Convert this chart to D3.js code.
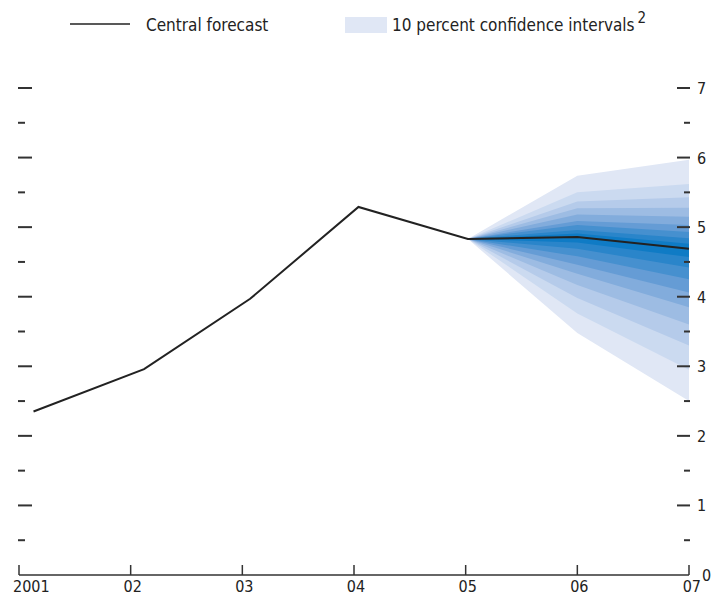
<!DOCTYPE html>
<html>
<head>
<meta charset="utf-8">
<script src="https://cdn.jsdelivr.net/npm/d3@7"></script>
<style>
  body { margin: 0; background: #fff; }
  svg text { font-family: "Liberation Sans Narrow", "Arial Narrow", "DejaVu Sans Condensed", sans-serif; fill: #222; }
</style>
</head>
<body>
<div id="chart"></div>
<script>
// central forecast (year position, value)
const years = [2001.13, 2002.12, 2003.07, 2004.04, 2005.02, 2006.0, 2007.0];
const central = [2.35, 2.96, 3.97, 5.29, 4.83, 4.86, 4.69];

// fan: bands from outermost (90%) to innermost (10%), at 2005, 2006, 2007
const fanYears = [2005.02, 2006.0, 2007.0];
const fanUpper = [
  [4.83, 5.74, 5.97],
  [4.83, 5.50, 5.62],
  [4.83, 5.37, 5.43],
  [4.83, 5.27, 5.28],
  [4.83, 5.18, 5.15],
  [4.83, 5.09, 5.03],
  [4.83, 5.03, 4.93],
  [4.83, 4.96, 4.84],
  [4.83, 4.91, 4.76]
];
const fanLower = [
  [4.83, 3.48, 2.50],
  [4.83, 3.76, 2.95],
  [4.83, 3.98, 3.30],
  [4.83, 4.17, 3.60],
  [4.83, 4.33, 3.85],
  [4.83, 4.46, 4.06],
  [4.83, 4.58, 4.25],
  [4.83, 4.69, 4.42],
  [4.83, 4.78, 4.57]
];
const fanColors = ["#e0e7f5", "#cbdaf0", "#b5cbea", "#9dbce3", "#82acdc", "#659cd5", "#4690cf", "#2a85ca", "#0f7bc5"];

const xTicks = [2001, 2002, 2003, 2004, 2005, 2006, 2007];
const xLabels = ["2001", "02", "03", "04", "05", "06", "07"];
const yLabels = [0, 1, 2, 3, 4, 5, 6, 7];

const width = 712, height = 598;
const svg = d3.select("#chart").append("svg")
  .attr("width", width)
  .attr("height", height);

const x = d3.scaleLinear().domain([2001, 2007]).range([19, 689]);
const y = d3.scaleLinear().domain([0, 7]).range([575, 88]);

// fan bands
const area = d3.area()
  .x(d => x(d.x))
  .y0(d => y(d.lo))
  .y1(d => y(d.hi));

fanUpper.forEach(function (up, i) {
  const pts = fanYears.map((yr, j) => ({x: yr, lo: fanLower[i][j], hi: up[j]}));
  svg.append("path")
    .attr("d", area(pts))
    .attr("fill", fanColors[i]);
});

// central forecast line
const line = d3.line()
  .x((d, i) => x(years[i]))
  .y(d => y(d));
svg.append("path")
  .attr("d", line(central))
  .attr("fill", "none")
  .attr("stroke", "#222")
  .attr("stroke-width", 2)
  .attr("stroke-linejoin", "miter");

// y ticks, both sides
const halfSteps = d3.range(1, 15).map(d => d / 2);
const tickG = svg.append("g").attr("stroke", "#333").attr("stroke-width", 2);
halfSteps.forEach(function (v) {
  const major = Number.isInteger(v);
  tickG.append("line")
    .attr("x1", 18).attr("x2", major ? 32 : 25)
    .attr("y1", y(v)).attr("y2", y(v));
  tickG.append("line")
    .attr("x1", major ? 677 : 684).attr("x2", 690)
    .attr("y1", y(v)).attr("y2", y(v));
});

svg.append("g").selectAll("text")
  .data(yLabels)
  .enter().append("text")
  .attr("x", d => d === 0 ? 702 : 697)
  .attr("y", d => y(d) + 6)
  .attr("font-size", 16)
  .text(d => d);

// x axis
const xAxis = svg.append("g");
xAxis.append("line")
  .attr("x1", x(2001)).attr("x2", x(2007))
  .attr("y1", y(0)).attr("y2", y(0))
  .attr("stroke", "#333").attr("stroke-width", 1.5);
xAxis.selectAll("line.tick")
  .data(xTicks)
  .enter().append("line")
  .attr("class", "tick")
  .attr("x1", d => x(d)).attr("x2", d => x(d))
  .attr("y1", y(0)).attr("y2", y(0) - 10)
  .attr("stroke", "#333").attr("stroke-width", 1.5);
xAxis.selectAll("text")
  .data(xTicks)
  .enter().append("text")
  .attr("x", (d, i) => i === 0 ? 13 : x(d) + 2)
  .attr("y", 592)
  .attr("text-anchor", (d, i) => i === 0 ? "start" : (i === xTicks.length - 1 ? "end" : "middle"))
  .attr("dx", (d, i) => i === xTicks.length - 1 ? 10 : 0)
  .attr("font-size", 16)
  .text((d, i) => xLabels[i]);

// legend
const legend = svg.append("g");
legend.append("line")
  .attr("x1", 70).attr("x2", 130)
  .attr("y1", 24).attr("y2", 24)
  .attr("stroke", "#222").attr("stroke-width", 1.5);
legend.append("text")
  .attr("x", 146).attr("y", 31)
  .attr("font-size", 17)
  .text("Central forecast");
legend.append("rect")
  .attr("x", 345).attr("y", 17)
  .attr("width", 42).attr("height", 16)
  .attr("fill", fanColors[0]);
const lt = legend.append("text")
  .attr("x", 392).attr("y", 31)
  .attr("font-size", 17)
  .text("10 percent confidence intervals");
lt.append("tspan")
  .attr("dx", 3).attr("dy", -8)
  .attr("font-size", 15)
  .text("2");
</script>
</body>
</html>
